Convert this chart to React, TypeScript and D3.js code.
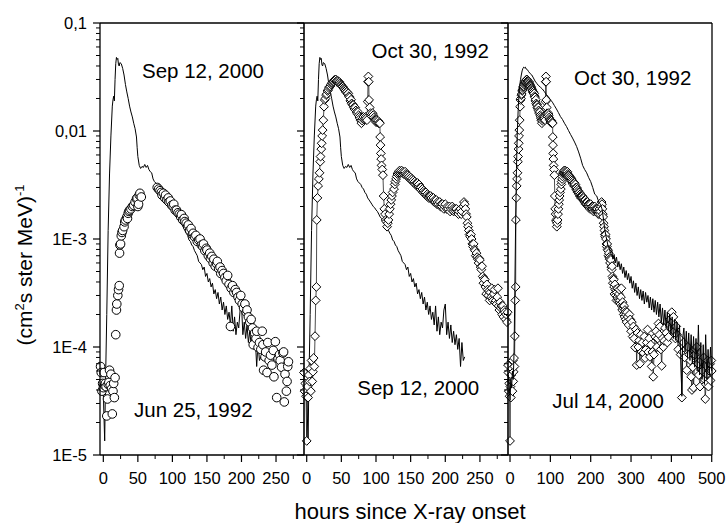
import React from "react";
import * as d3 from "d3";

// ---------- DATA ----------
const yTickValues = [1e-5, 1e-4, 1e-3, 1e-2, 1e-1];
const yTickLabels = ["1E-5", "1E-4", "1E-3", "0,01", "0,1"];
const xTicksShort = [0, 50, 100, 150, 200, 250];
const xMinorShort = [25, 75, 125, 175, 225, 275];
const xTicksLong = [0, 100, 200, 300, 400, 500];
const xMinorLong = [50, 150, 250, 350, 450];

// Sep 12, 2000 (solid line)
const sep12_2000: [number, number][] = [
  [-4, 4.6e-5], [-2, 4.2e-5], [0, 3.8e-5], [1, 2.2e-5], [2, 1.35e-5], [3, 4e-5], [5, 2e-4], [7, 1.2e-3],
  [9, 4e-3], [11, 9e-3], [13, 0.017], [14, 0.0194], [15, 0.021], [16, 0.019], [17, 0.03], [18, 0.042],
  [19, 0.048], [20, 0.046], [21, 0.047], [22, 0.041], [23, 0.04], [24, 0.043], [26, 0.042], [28, 0.038],
  [30, 0.033], [32, 0.027], [34, 0.023], [36, 0.02], [38, 0.017], [40, 0.015], [42, 0.0135], [44, 0.0118],
  [46, 0.0105], [48, 0.0088], [49, 0.007], [50, 0.0058], [52, 0.0048], [54, 0.0045], [56, 0.0047],
  [58, 0.0046], [60, 0.0049], [62, 0.0046], [64, 0.0048], [66, 0.0044], [68, 0.0042], [70, 0.0041],
  [72, 0.0036], [74, 0.0034], [76, 0.0033], [78, 0.0032], [80, 0.003], [82, 0.0029], [84, 0.0027],
  [86, 0.0026], [88, 0.0024], [90, 0.0023], [92, 0.0022], [94, 0.0021], [96, 0.002], [98, 0.00195],
  [100, 0.00186], [102, 0.0018], [104, 0.0017], [106, 0.0016], [108, 0.00155], [110, 0.00145],
  [112, 0.0014], [114, 0.00135], [116, 0.00128], [118, 0.0012], [120, 0.00113], [122, 0.00108],
  [124, 0.00098], [126, 0.00095], [128, 0.00088], [130, 0.00085], [132, 0.00078], [134, 0.00074],
  [136, 0.0007], [138, 0.00062], [140, 0.0006], [142, 0.00058], [144, 0.00052], [146, 0.00055],
  [148, 0.00045], [150, 0.00048], [152, 0.0004], [154, 0.00043], [156, 0.00036], [158, 0.00039],
  [160, 0.00031], [162, 0.00034], [164, 0.00028], [166, 0.00032], [168, 0.00025], [170, 0.00029],
  [172, 0.00022], [174, 0.00026], [176, 0.0002], [178, 0.00024], [180, 0.00018], [182, 0.00021],
  [184, 0.00016], [186, 0.00024], [188, 0.00014], [190, 0.00019], [192, 0.00013], [194, 0.00017],
  [196, 0.00015], [198, 0.00022], [200, 0.00025], [202, 0.00013], [204, 0.00017], [206, 0.00012],
  [208, 0.00016], [210, 0.00011], [212, 0.00014], [214, 0.000105], [216, 0.00013], [218, 0.000095],
  [220, 0.00012], [222, 0.000066], [224, 0.00011], [226, 0.000075], [228, 0.000081],
];

// Jun 25, 1992 (open circles)
const jun25_1992: [number, number][] = [
  [-4, 6.6e-5], [-3, 5.8e-5], [-2, 3.9e-5], [-1, 4.6e-5], [0, 4.2e-5], [1, 5.8e-5], [2, 4.4e-5], [3, 4.6e-5],
  [4, 4.3e-5], [5, 2.3e-5], [6, 3.3e-5], [7, 4.5e-5], [8, 4.7e-5], [9, 6.1e-5], [10, 4.4e-5], [11, 5.6e-5],
  [12, 4.1e-5], [13, 2.4e-5], [14, 3.9e-5], [15, 4.6e-5], [16, 3.4e-5], [17, 5.2e-5],
  [18, 1.3e-4], [19, 2.2e-4], [19.5, 2.5e-4], [21, 3.0e-4], [22, 3.4e-4], [23, 3.7e-4], [23.5, 7.4e-4],
  [24, 8.8e-4], [25, 9.0e-4], [26, 1.07e-3], [27, 1.15e-3], [28, 1.2e-3], [30, 1.3e-3], [31, 1.44e-3],
  [32, 1.5e-3], [34, 1.6e-3], [35, 1.55e-3], [36, 1.73e-3], [37, 1.8e-3], [38, 1.85e-3], [40, 1.9e-3],
  [42, 2.0e-3], [44, 2.05e-3], [46, 2.2e-3], [48, 2.35e-3], [49, 2.4e-3], [50, 2.0e-3], [51, 2.1e-3],
  [52, 2.55e-3], [53, 2.65e-3], [55, 2.45e-3],
  [78, 3.0e-3], [80, 2.9e-3], [82, 2.8e-3], [84, 2.7e-3], [85, 2.55e-3], [87, 2.65e-3], [89, 2.4e-3],
  [90, 2.55e-3], [92, 2.3e-3], [94, 2.4e-3], [95, 2.2e-3], [97, 2.25e-3], [99, 2.05e-3], [101, 2.0e-3],
  [102, 2.1e-3], [104, 1.85e-3], [106, 1.85e-3], [108, 1.75e-3], [110, 1.7e-3], [112, 1.6e-3],
  [113, 1.68e-3], [115, 1.5e-3], [117, 1.55e-3], [118, 1.45e-3], [120, 1.4e-3], [122, 1.3e-3],
  [123, 1.35e-3], [125, 1.2e-3], [127, 1.25e-3], [129, 1.1e-3], [130, 1.13e-3], [132, 1.05e-3],
  [134, 1.08e-3], [136, 9.5e-4], [138, 9.8e-4], [140, 1.0e-3], [142, 8.8e-4], [144, 8.5e-4], [145, 9.0e-4],
  [147, 7.8e-4], [149, 8.2e-4], [150, 7.9e-4], [152, 7.0e-4], [154, 7.4e-4], [155, 6.6e-4], [157, 6.9e-4],
  [159, 6.0e-4], [160, 6.5e-4], [162, 5.6e-4], [164, 5.9e-4], [165, 6.2e-4], [167, 5.3e-4], [169, 5.5e-4],
  [170, 4.8e-4], [172, 5.1e-4], [174, 4.8e-4], [176, 4.4e-4], [178, 4.1e-4], [180, 4.6e-4], [182, 3.8e-4],
  [184, 1.55e-4], [185, 3.5e-4], [187, 3.7e-4], [189, 3.2e-4], [191, 3.4e-4], [193, 3.2e-4], [195, 2.9e-4],
  [197, 2.7e-4], [199, 3.0e-4], [201, 2.5e-4], [203, 2.3e-4], [205, 2.5e-4], [207, 2.1e-4], [208, 2.2e-4],
  [210, 1.9e-4], [212, 1.7e-4], [214, 1.8e-4], [216, 1.5e-4], [217, 1.05e-4], [219, 1.35e-4], [221, 1.2e-4],
  [222, 1.4e-4], [224, 9.9e-5], [226, 1.1e-4], [228, 9.5e-5], [230, 1.4e-4], [231, 1.05e-4], [232, 6.1e-5],
  [234, 8.1e-5], [235, 9.0e-5], [237, 5.8e-5], [238, 1.1e-4], [240, 7.5e-5], [242, 8.4e-5], [244, 6.8e-5],
  [246, 9.3e-5], [247, 5.3e-5], [249, 1.12e-4], [251, 3.4e-5], [253, 7.8e-5], [255, 8.5e-5], [256, 7.5e-5],
  [258, 6.5e-5], [260, 8.8e-5], [261, 9.0e-5], [262, 3.1e-5], [263, 5.6e-5], [265, 3.9e-5], [266, 4.8e-5],
  [267, 6.6e-5], [268, 7.3e-5],
];

// Oct 30, 1992 (open diamonds joined by a thin line)
const oct30_1992: [number, number][] = [
  [-5, 6.8e-5], [-4, 5.8e-5], [-3, 3.9e-5], [-2, 4.6e-5], [-1, 3.5e-5], [0, 1.35e-5], [1, 4.3e-5], [2, 3.4e-5],
  [3, 5.5e-5], [4, 4.8e-5], [5, 6.3e-5], [6, 3.9e-5], [7, 7.5e-5], [8, 4.8e-5], [9, 5.9e-5], [10, 7.9e-5],
  [11, 6.6e-5], [12, 1.26e-4], [13, 2.7e-4], [14, 3.6e-4],
  [14.5, 1.5e-3], [15.5, 2.4e-3], [16.5, 3.1e-3], [17.5, 3.6e-3], [18.5, 4.1e-3], [19.5, 5.2e-3], [20, 5.8e-3],
  [21, 6.8e-3], [21.6, 7.7e-3], [22.3, 9e-3], [23, 0.0102], [24, 0.0126], [25, 0.0168], [26, 0.0194],
  [27, 0.02], [28, 0.0215], [29, 0.022], [30, 0.0235], [31, 0.024], [32, 0.025], [33, 0.0257], [34, 0.026],
  [35, 0.027], [36, 0.0275], [37, 0.028], [38, 0.0285], [39, 0.029], [40, 0.0297], [41, 0.0295], [42, 0.03],
  [43, 0.029], [44, 0.0285], [45, 0.029], [46, 0.028], [47, 0.0285], [48, 0.0277], [49, 0.027], [50, 0.0265],
  [51, 0.026], [52, 0.0257], [53, 0.025], [54, 0.0245], [55, 0.024], [56, 0.0235], [57, 0.0228], [58, 0.023],
  [59, 0.022], [60, 0.0223], [61, 0.021], [62, 0.0205], [63, 0.019], [64, 0.0195], [65, 0.018], [66, 0.0175],
  [67, 0.0174], [68, 0.0165], [69, 0.016], [70, 0.0165], [71, 0.0155], [72, 0.015], [73, 0.0145], [74, 0.015],
  [75, 0.014], [76, 0.0135], [77, 0.013], [78, 0.0125], [79, 0.0118], [80, 0.0125], [81, 0.013], [82, 0.0135],
  [83, 0.0128], [84, 0.013], [85, 0.0135], [86, 0.0131], [87, 0.0126], [88, 0.0187], [88.5, 0.0286],
  [89, 0.032], [89.5, 0.0286], [90, 0.0194], [91, 0.0165], [92, 0.0146], [93, 0.014], [94, 0.0136],
  [95, 0.0146], [96, 0.014], [97, 0.0133], [98, 0.0128], [99, 0.0126], [100, 0.0121], [101, 0.0126],
  [102, 0.012], [103, 0.0124], [104, 0.0118], [105, 0.012], [105.6, 0.0118], [106, 0.0088], [106.5, 0.0074],
  [107, 0.0062], [107.5, 0.0055], [108, 0.0048], [109, 0.0044], [110, 0.0039], [111, 0.0025], [112, 0.0019],
  [113, 0.0017], [114, 0.0015], [115, 0.00145], [116, 0.0013], [117, 0.0014], [118, 0.0015], [119, 0.0017],
  [120, 0.0019], [121, 0.0021], [122, 0.0023], [123, 0.0025], [124, 0.0027], [126, 0.0029], [127, 0.0032],
  [128, 0.0034], [129, 0.0036], [130, 0.0038], [131, 0.004], [132, 0.0041], [133, 0.0042], [134, 0.0043],
  [135, 0.0041], [136, 0.0042], [137, 0.0043], [138, 0.0041], [139, 0.0042], [140, 0.004], [141, 0.0041],
  [142, 0.0042], [143, 0.004], [144, 0.0039], [145, 0.0038], [146, 0.0039], [147, 0.0037], [148, 0.0038],
  [149, 0.0036], [150, 0.0037], [151, 0.0035], [152, 0.0036], [153, 0.0034], [154, 0.0035], [155, 0.0033],
  [156, 0.0034], [157, 0.0032], [158, 0.0033], [159, 0.0031], [160, 0.0033], [161, 0.0031], [162, 0.0032],
  [163, 0.003], [164, 0.0029], [165, 0.003], [166, 0.0028], [167, 0.0029], [168, 0.0027], [169, 0.0028],
  [170, 0.0027], [171, 0.0026], [172, 0.0027], [173, 0.0025], [174, 0.0026], [175, 0.0025], [176, 0.0024],
  [177, 0.0025], [178, 0.0024], [179, 0.0025], [180, 0.0024], [182, 0.0023], [183, 0.0024], [184, 0.0022],
  [185, 0.0023], [186, 0.0022], [187, 0.0023], [188, 0.0021], [189, 0.0022], [190, 0.0021], [192, 0.0022],
  [193, 0.002], [194, 0.0021], [195, 0.002], [196, 0.0021], [198, 0.0019], [199, 0.002], [200, 0.0021],
  [202, 0.0019], [203, 0.002], [204, 0.0019], [206, 0.002], [207, 0.0018], [208, 0.0019], [210, 0.002],
  [211, 0.0019], [212, 0.0018], [214, 0.0019], [215, 0.0018], [216, 0.0019], [218, 0.0018], [219, 0.0017],
  [220, 0.0018], [222, 0.0019], [223, 0.0017], [224, 0.0018], [226, 0.002], [227, 0.0022], [228, 0.0021],
  [229, 0.0019], [230, 0.0017], [231, 0.0016], [232, 0.0014], [233, 0.0013], [234, 0.0012], [235, 0.0011],
  [236, 0.00105], [237, 0.0011], [238, 0.001], [239, 0.0009], [240, 0.00085], [241, 0.0009], [242, 0.0008],
  [243, 0.00078], [244, 0.0007], [245, 0.00074], [246, 0.00068], [247, 0.00065], [248, 0.0006],
  [249, 0.00066], [250, 0.00064], [251, 0.00055], [252, 0.00052], [253, 0.00056], [254, 0.00045],
  [255, 0.00039], [256, 0.00043], [257, 0.00042], [258, 0.00036], [259, 0.00031], [260, 0.00038],
  [261, 0.00034], [262, 0.0003], [263, 0.00033], [264, 0.00027], [265, 0.00032], [266, 0.00029],
  [267, 0.00035], [268, 0.00028], [269, 0.00027], [270, 0.00031], [271, 0.00034], [272, 0.00026],
  [273, 0.00027], [274, 0.00025], [275, 0.00029], [276, 0.00035], [277, 0.00024], [278, 0.00022],
  [279, 0.00026], [280, 0.00023], [281, 0.00024], [282, 0.0002], [283, 0.00024], [284, 0.00019],
  [285, 0.00022], [286, 0.00021], [287, 0.00018], [288, 0.0002], [289, 0.00017], [290, 0.00021],
  [292, 1.9e-4], [294, 1.6e-4], [296, 2.0e-4], [298, 1.8e-4], [300, 1.4e-4], [302, 1.7e-4], [304, 1.25e-4],
  [306, 1.55e-4], [308, 1.2e-4], [310, 9.9e-5], [312, 1.45e-4], [314, 6.8e-5], [316, 1.35e-4], [318, 1.0e-4],
  [320, 1.15e-4], [322, 7.0e-5], [324, 1.3e-4], [326, 9e-5], [328, 1.1e-4], [331, 8.8e-5], [333, 1.25e-4],
  [335, 7.9e-5], [337, 9.5e-5], [339, 1.1e-4], [341, 1.45e-4], [343, 9e-5], [345, 1.2e-4], [347, 8.1e-5],
  [349, 1.05e-4], [351, 6.6e-5], [353, 9e-5], [355, 5.3e-5], [357, 8.5e-5], [360, 1.24e-4], [362, 1.4e-4],
  [364, 1.0e-4], [366, 1.2e-4], [368, 1.65e-4], [370, 1.3e-4], [372, 1.55e-4], [374, 9.5e-5], [376, 6.7e-5],
  [378, 1.2e-4], [380, 1.0e-4], [382, 1.14e-4], [384, 1.5e-4], [387, 1.35e-4], [390, 1.1e-4], [393, 1.24e-4],
  [395, 1.6e-4], [397, 1.8e-4], [399, 1.5e-4], [401, 2.1e-4], [403, 1.7e-4], [405, 1.9e-4], [407, 1.4e-4],
  [410, 1.2e-4], [412, 1.55e-4], [414, 1.3e-4], [417, 9.5e-5], [420, 1.2e-4], [423, 8.5e-5], [426, 3.4e-5],
  [428, 9e-5], [430, 1.1e-4], [433, 8e-5], [436, 9.5e-5], [438, 6.1e-5], [441, 1.0e-4], [444, 8.5e-5],
  [447, 7.5e-5], [449, 5.3e-5], [451, 4.0e-5], [453, 6.5e-5], [455, 4.2e-5], [458, 8.5e-5], [460, 9.5e-5],
  [463, 1.0e-4], [466, 7e-5], [468, 5.5e-5], [471, 4.3e-5], [474, 7.5e-5], [477, 6e-5], [480, 8e-5],
  [482, 5e-5], [484, 3.3e-5], [486, 4.5e-5], [488, 5.6e-5], [490, 7.5e-5], [492, 4.3e-5], [494, 6e-5],
  [496, 7.0e-5], [497, 4.9e-5], [499, 7.5e-5], [500, 6e-5],
];

// Jul 14, 2000 (solid line)
const jul14_2000: [number, number][] = [
  [-4, 5.5e-5], [-2, 4.5e-5], [0, 3.2e-5], [2, 5.0e-5], [4, 4.2e-5], [6, 6.0e-5], [8, 5.0e-5], [10, 9e-5],
  [12, 3.5e-4], [14, 1.5e-3], [16, 4.5e-3], [18, 0.0095], [20, 0.015], [22, 0.021], [24, 0.026], [26, 0.03],
  [28, 0.033], [30, 0.036], [32, 0.038], [34, 0.039], [36, 0.0385], [38, 0.039], [40, 0.0375], [43, 0.037],
  [46, 0.0355], [50, 0.034], [54, 0.033], [58, 0.031], [62, 0.029], [66, 0.0277], [70, 0.0265], [75, 0.0255],
  [80, 0.0245], [85, 0.0232], [90, 0.0218], [95, 0.0208], [100, 0.0195], [105, 0.0185], [110, 0.0172],
  [115, 0.016], [120, 0.0148], [125, 0.0136], [130, 0.0128], [135, 0.0118], [140, 0.011], [145, 0.0101],
  [150, 0.0093], [155, 0.0086], [160, 0.0079], [165, 0.0072], [170, 0.0064], [175, 0.0056], [180, 0.0048],
  [185, 0.0044], [190, 0.0041], [195, 0.0037], [200, 0.0034], [205, 0.003], [210, 0.0026], [215, 0.0025],
  [220, 0.0022], [224, 0.0021], [228, 0.0019], [231, 0.0016], [234, 0.0013], [237, 0.0011], [240, 9.8e-4],
  [243, 8.6e-4], [246, 8.2e-4], [249, 7.4e-4], [252, 7.8e-4], [255, 6.5e-4], [258, 7.2e-4], [261, 6.0e-4],
  [264, 6.8e-4], [267, 5.5e-4], [270, 6.2e-4], [273, 5.2e-4], [276, 5.9e-4], [279, 4.8e-4], [282, 5.5e-4],
  [285, 4.4e-4], [288, 5.1e-4], [291, 4.2e-4], [294, 4.8e-4], [297, 3.9e-4], [300, 4.5e-4], [303, 3.5e-4],
  [306, 4.1e-4], [309, 3.2e-4], [312, 3.9e-4], [315, 3.0e-4], [318, 3.6e-4], [321, 2.8e-4], [324, 3.4e-4],
  [327, 2.7e-4], [330, 3.3e-4], [333, 2.5e-4], [336, 3.2e-4], [339, 2.6e-4], [342, 3.0e-4], [345, 2.3e-4],
  [348, 2.9e-4], [351, 2.2e-4], [354, 2.8e-4], [357, 2.1e-4], [360, 2.7e-4], [363, 2.0e-4], [366, 2.6e-4],
  [369, 1.9e-4], [372, 2.5e-4], [375, 1.7e-4], [378, 2.3e-4], [381, 1.6e-4], [384, 2.2e-4], [387, 1.5e-4],
  [390, 2.1e-4], [393, 1.4e-4], [396, 2.0e-4], [399, 1.3e-4], [402, 1.9e-4], [405, 1.2e-4], [408, 1.8e-4],
  [411, 1.15e-4], [414, 1.7e-4], [417, 1.1e-4], [420, 1.6e-4], [423, 9e-5], [426, 3.5e-5], [428, 1.2e-4],
  [431, 1.5e-4], [434, 9e-5], [437, 1.4e-4], [440, 8e-5], [443, 1.35e-4], [446, 7.5e-5], [449, 1.3e-4],
  [452, 7e-5], [455, 1.25e-4], [458, 6.5e-5], [461, 1.2e-4], [464, 6e-5], [467, 1.6e-4], [470, 5.5e-5],
  [473, 1.1e-4], [476, 5e-5], [479, 1.05e-4], [482, 4.5e-5], [485, 1.3e-4], [488, 5e-5], [491, 9.5e-5],
  [494, 5.5e-5], [497, 1.0e-4], [500, 6e-5],
];

const annotations = [
  { text: "Sep 12, 2000", x: 142, y: 78 },
  { text: "Jun 25, 1992", x: 134, y: 416.5 },
  { text: "Oct 30, 1992", x: 371.5, y: 58.3 },
  { text: "Sep 12, 2000", x: 357.3, y: 395 },
  { text: "Oct 30, 1992", x: 574, y: 85 },
  { text: "Jul 14, 2000", x: 552.3, y: 408.3 },
];

// ---------- LAYOUT ----------
const W = 727;
const H = 523;
const TOP = 23;
const BOTTOM = 455;
const FONT = "'Liberation Sans', Arial, Helvetica, sans-serif";

const y = d3.scaleLog().domain([1e-5, 0.1]).range([BOTTOM, TOP]);

const minorY: number[] = [];
for (let e = -5; e < -1; e++) {
  for (let m = 2; m <= 9; m++) minorY.push(m * Math.pow(10, e));
}

type Pt = [number, number];
type Panel = {
  x: d3.ScaleLinear<number, number>;
  major: number[];
  minor: number[];
  lines: { data: Pt[]; order: number }[];
};

const diamondPath = (cx: number, cy: number, r: number) =>
  `M${cx},${cy - r}L${cx + r},${cy}L${cx},${cy + r}L${cx - r},${cy}Z`;

export default function App() {
  const x1 = d3.scaleLinear().domain([-4.8, 290.5]).range([100, 304]);
  const x2 = d3.scaleLinear().domain([-3.9, 290.5]).range([304, 508]);
  const x3 = d3.scaleLinear().domain([-5, 500.7]).range([508, 712]);

  const inDom = (x: d3.ScaleLinear<number, number>) => (p: Pt) =>
    p[0] >= x.domain()[0] - 1 && p[0] <= x.domain()[1];

  const lineGen = (x: d3.ScaleLinear<number, number>) =>
    d3
      .line<Pt>()
      .x((d) => x(d[0]))
      .y((d) => y(d[1]));

  const panels = [
    { x: x1, major: xTicksShort, minor: xMinorShort },
    { x: x2, major: xTicksShort, minor: xMinorShort },
    { x: x3, major: xTicksLong, minor: xMinorLong },
  ];

  const solid = (x: d3.ScaleLinear<number, number>, data: Pt[]) => (
    <path
      d={lineGen(x)(data.filter(inDom(x))) || ""}
      fill="none"
      stroke="#000"
      strokeWidth={1}
      strokeLinejoin="round"
    />
  );

  const diamonds = (x: d3.ScaleLinear<number, number>, data: Pt[]) => {
    const pts = data.filter(inDom(x));
    return (
      <g>
        <path d={lineGen(x)(pts) || ""} fill="none" stroke="#000" strokeWidth={0.7} />
        {pts.map((p, i) => (
          <path key={i} d={diamondPath(x(p[0]), y(p[1]), 4.4)} fill="#fff" stroke="#000" strokeWidth={1} />
        ))}
      </g>
    );
  };

  const circles = (x: d3.ScaleLinear<number, number>, data: Pt[]) => (
    <g>
      {data.filter(inDom(x)).map((p, i) => (
        <circle key={i} cx={x(p[0])} cy={y(p[1])} r={4.3} fill="#fff" stroke="#000" strokeWidth={1} />
      ))}
    </g>
  );

  return (
    <svg
      width={W}
      height={H}
      style={{ position: "absolute", left: 0, top: 0, background: "#fff" }}
      fontFamily={FONT}
    >
      <rect x={0} y={0} width={W} height={H} fill="#fff" />

      {/* data */}
      {solid(x1, sep12_2000)}
      {circles(x1, jun25_1992)}

      {solid(x2, sep12_2000)}
      {diamonds(x2, oct30_1992)}

      {diamonds(x3, oct30_1992)}
      {solid(x3, jul14_2000)}

      {/* frame */}
      <line x1={100} x2={712} y1={TOP} y2={TOP} stroke="#000" strokeWidth={1.3} />
      <line x1={100} x2={712} y1={BOTTOM} y2={BOTTOM} stroke="#000" strokeWidth={1.3} />
      <line x1={712} x2={712} y1={TOP} y2={BOTTOM} stroke="#000" strokeWidth={1.3} />

      {panels.map((p, pi) => {
        const left = p.x.range()[0];
        return (
          <g key={pi}>
            <line x1={left} x2={left} y1={TOP} y2={BOTTOM} stroke="#000" strokeWidth={pi === 0 ? 1.3 : 1.6} />
            {yTickValues.map((v) => (
              <line key={"M" + v} x1={left - 7} x2={left} y1={y(v)} y2={y(v)} stroke="#000" strokeWidth={1.2} />
            ))}
            {minorY.map((v) => (
              <line key={"m" + v} x1={left - 4} x2={left} y1={y(v)} y2={y(v)} stroke="#000" strokeWidth={1} />
            ))}
            {p.major.map((t) => (
              <g key={"xt" + t}>
                <line x1={p.x(t)} x2={p.x(t)} y1={BOTTOM} y2={BOTTOM + 7} stroke="#000" strokeWidth={1.2} />
                <text x={p.x(t)} y={484} fontSize={16.5} textAnchor="middle" fill="#000">
                  {t}
                </text>
              </g>
            ))}
            {p.minor.map((t) => (
              <line key={"xm" + t} x1={p.x(t)} x2={p.x(t)} y1={BOTTOM} y2={BOTTOM + 4} stroke="#000" strokeWidth={1} />
            ))}
          </g>
        );
      })}

      {/* y tick labels */}
      {yTickValues.map((v, i) => (
        <text key={v} x={87} y={y(v) + 6} fontSize={16.5} textAnchor="end" fill="#000">
          {yTickLabels[i]}
        </text>
      ))}

      {/* annotations */}
      {annotations.map((a, i) => (
        <text key={i} x={a.x} y={a.y} fontSize={20.5} fill="#000">
          {a.text}
        </text>
      ))}

      {/* axis titles */}
      <text x={410} y={519} fontSize={22} textAnchor="middle" fill="#000">
        hours since X-ray onset
      </text>
      <text transform="translate(32,265) rotate(-90)" fontSize={21} textAnchor="middle" fill="#000">
        (cm<tspan fontSize={13} dy={-8}>2</tspan>
        <tspan fontSize={21} dy={8}>s ster MeV)</tspan>
        <tspan fontSize={13} dy={-8}>-1</tspan>
      </text>
    </svg>
  );
}
